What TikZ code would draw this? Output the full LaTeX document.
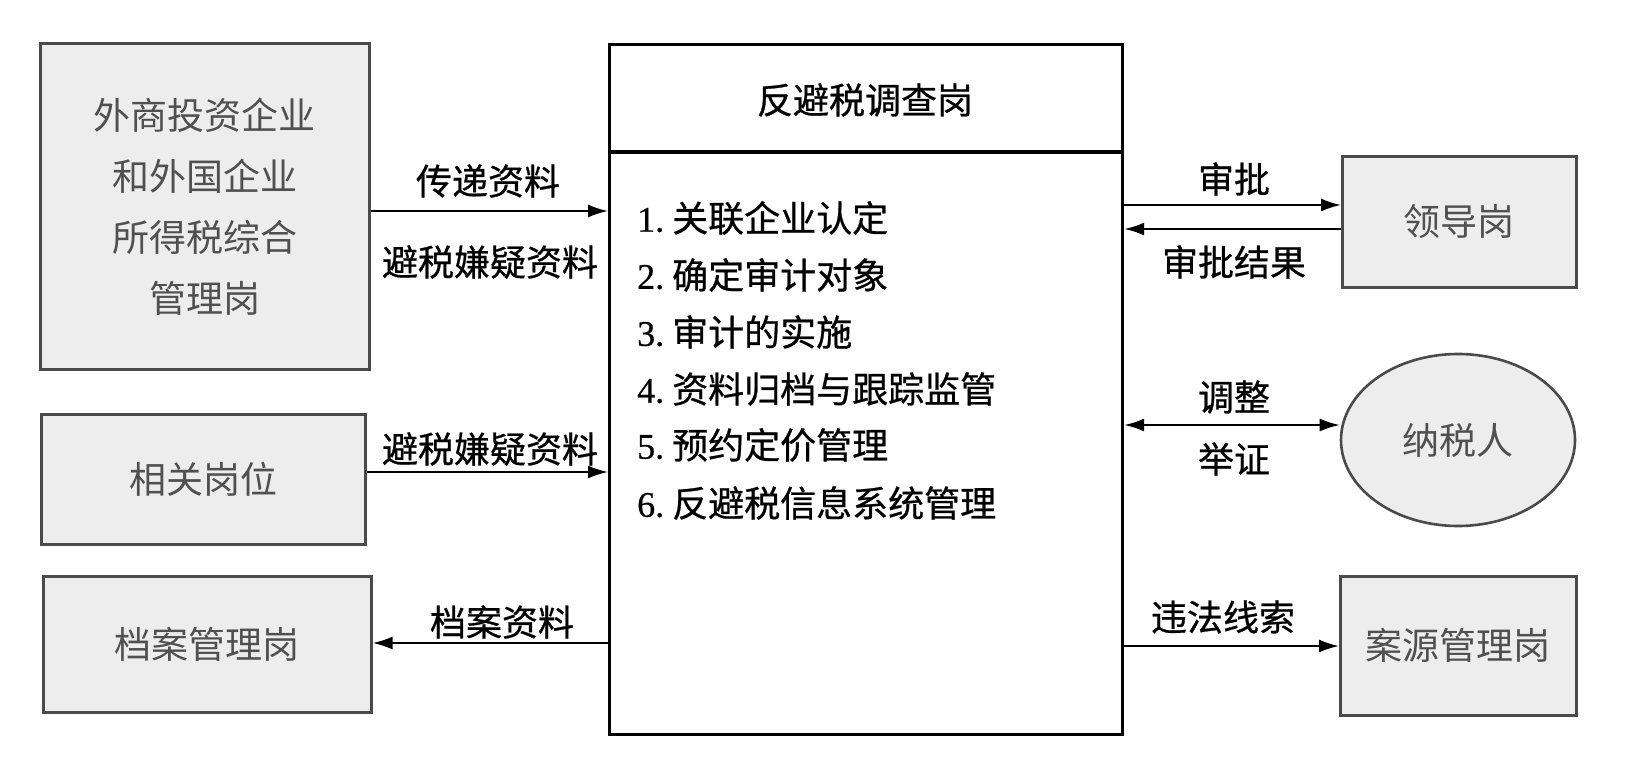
\documentclass[tikz,border=0pt]{standalone}
\usepackage{fontspec}
\setmainfont{Liberation Serif}
\newfontfamily\cjk{Noto Sans CJK SC}
\newfontfamily\cjkb[FakeBold=0.7]{Noto Sans CJK SC}
\newfontfamily\numfont[FakeBold=0.6]{Liberation Serif}
\usetikzlibrary{arrows.meta,shapes.geometric,calc}
\definecolor{boxfill}{HTML}{EDEDED}
\definecolor{boxline}{HTML}{4A4A4A}
\definecolor{boxtext}{HTML}{505050}
\tikzset{
  graybox/.style={draw=boxline, fill=boxfill, line width=2.6pt, text=boxtext,
    font=\cjk\fontsize{37}{61}\selectfont, align=center, inner sep=0pt, anchor=north west},
  mainbox/.style={draw=black, line width=3.2pt, inner sep=0pt, anchor=north west},
  lbl/.style={font=\cjkb\fontsize{36}{40}\selectfont, text=black, inner sep=0pt},
  itemtxt/.style={font=\cjkb\fontsize{36}{40}\selectfont, text=black, inner sep=0pt, anchor=west},
  arr/.style={line width=2pt, -{Latex[length=20pt,width=13pt]}},
  dblarr/.style={line width=2pt, {Latex[length=20pt,width=13pt]}-{Latex[length=20pt,width=13pt]}}
}
\newcommand{\numlbl}[1]{{\numfont\fontsize{36}{40}\selectfont #1}\hspace{8pt}}
\begin{document}
\begin{tikzpicture}[x=1pt,y=-1pt]
\useasboundingbox (0,0) rectangle (1646,762);
% left boxes
\node[graybox, minimum width=329pt, minimum height=326pt] (fi) at (39,42)
  {外商投资企业\\和外国企业\\所得税综合\\管理岗};
\node[graybox, minimum width=324pt, minimum height=130pt] (rel) at (40,413) {相关岗位};
\node[graybox, minimum width=328pt, minimum height=136pt] (arch) at (42,575) {档案管理岗};
% right boxes
\node[graybox, minimum width=234pt, minimum height=131pt] (lead) at (1341,155) {领导岗};
\node[graybox, ellipse, anchor=center, minimum width=234pt, minimum height=172pt] (tax) at (1458,440) {纳税人};
\node[graybox, minimum width=236pt, minimum height=139pt] (case) at (1339,575) {案源管理岗};
% main box
\node[mainbox, minimum width=513pt, minimum height=690pt] (main) at (608,43) {};
\coordinate (hdr) at (0,152);
\draw[line width=3.2pt] (main.west |- hdr) -- (main.east |- hdr);
\node[lbl] (title) at (865,100) {反避税调查岗};
\node[itemtxt] (i1) at (637,218) {\numlbl{1.}关联企业认定};
\node[itemtxt] (i2) at (637,275) {\numlbl{2.}确定审计对象};
\node[itemtxt] (i3) at (637,332) {\numlbl{3.}审计的实施};
\node[itemtxt] (i4) at (637,389) {\numlbl{4.}资料归档与跟踪监管};
\node[itemtxt] (i5) at (637,445) {\numlbl{5.}预约定价管理};
\node[itemtxt] (i6) at (637,503) {\numlbl{6.}反避税信息系统管理};
% arrow levels
\coordinate (y1) at (0,211);
\coordinate (y2) at (0,472);
\coordinate (y3) at (0,643);
\coordinate (y4) at (0,205);
\coordinate (y5) at (0,229);
\coordinate (y6) at (0,425);
\coordinate (y7) at (0,646);
% left connectors
\draw[arr] (fi.east |- y1) -- (main.west |- y1);
\node[lbl] (l1) at (488,181) {传递资料};
\node[lbl] (l2) at (490,262) {避税嫌疑资料};
\draw[arr] (rel.east |- y2) -- (main.west |- y2);
\node[lbl] (l3) at (490,449) {避税嫌疑资料};
\draw[arr] (main.west |- y3) -- (arch.east |- y3);
\node[lbl] (l4) at (502,622) {档案资料};
% right connectors
\draw[arr] (main.east |- y4) -- (lead.west |- y4);
\node[lbl] (l5) at (1234,179) {审批};
\draw[arr] (lead.west |- y5) -- (main.east |- y5);
\node[lbl] (l6) at (1234,262) {审批结果};
\draw[dblarr] (main.east |- y6) -- (tax.west |- y6);
\node[lbl] (l7) at (1234,397) {调整};
\node[lbl] (l8) at (1234,459) {举证};
\draw[arr] (main.east |- y7) -- (case.west |- y7);
\node[lbl] (l9) at (1223,617) {违法线索};
\end{tikzpicture}
\end{document}
